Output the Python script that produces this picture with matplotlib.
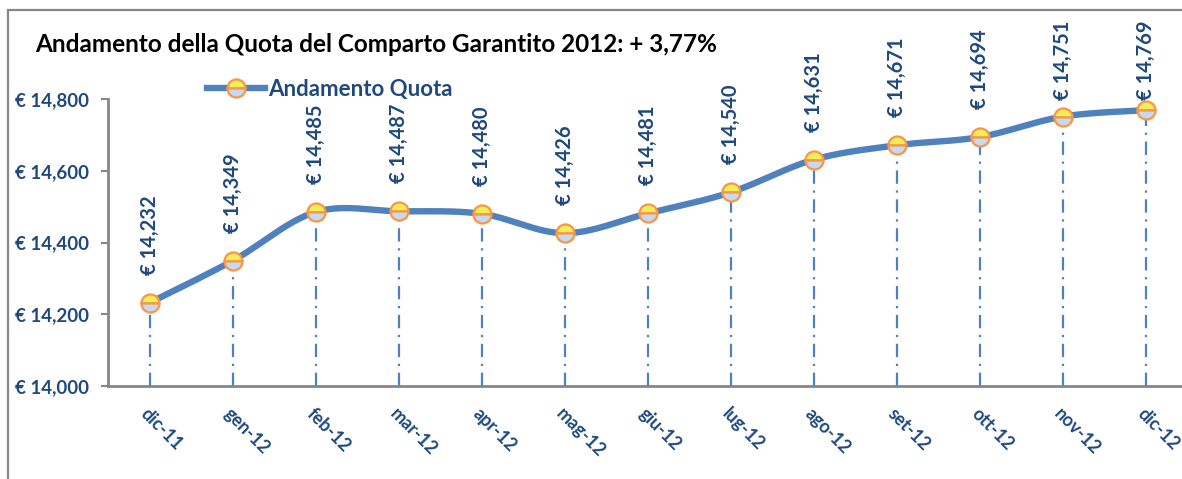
import numpy as np
import matplotlib
matplotlib.use("Agg")
import matplotlib.pyplot as plt
from matplotlib.patches import Rectangle

# Data
months = ['dic-11', 'gen-12', 'feb-12', 'mar-12', 'apr-12', 'mag-12', 'giu-12',
          'lug-12', 'ago-12', 'set-12', 'ott-12', 'nov-12', 'dic-12']
quota = [14.232, 14.349, 14.485, 14.487, 14.480, 14.426, 14.481,
         14.540, 14.631, 14.671, 14.694, 14.751, 14.769]
y_ticks = [14.0, 14.2, 14.4, 14.6, 14.8]

title = 'Andamento della Quota del Comparto Garantito 2012: + 3,77%'
series_name = 'Andamento Quota'

line_col = '#4F81BD'
text_col = '#1F497D'
edge_col = '#F79646'
grey = '#868686'

plt.rcParams['font.family'] = ['Lato', 'DejaVu Sans']

W, H = 1182, 479
fig = plt.figure(figsize=(W / 100, H / 100), dpi=100)
ax = fig.add_axes([108 / W, 1 - 386 / H, (1187.5 - 108) / W, (386 - 99) / H])

x = np.arange(len(months))
y = np.array(quota)


def eur(v):
    return '€ ' + f'{v:,.3f}'.replace('.', ',')


# smoothed line like Excel (Catmull-Rom through bezier segments)
def smooth(xs, ys, n=30):
    px = np.concatenate([[xs[0]], xs, [xs[-1]]])
    py = np.concatenate([[ys[0]], ys, [ys[-1]]])
    out_x, out_y = [], []
    t = np.linspace(0, 1, n)
    for i in range(1, len(px) - 2):
        p0 = np.array([px[i], py[i]])
        p3 = np.array([px[i + 1], py[i + 1]])
        c1 = p0 + (p3 - np.array([px[i - 1], py[i - 1]])) / 6
        c2 = p3 - (np.array([px[i + 2], py[i + 2]]) - p0) / 6
        b = ((1 - t) ** 3)[:, None] * p0 + (3 * (1 - t) ** 2 * t)[:, None] * c1 \
            + (3 * (1 - t) * t ** 2)[:, None] * c2 + (t ** 3)[:, None] * p3
        out_x.extend(b[:, 0])
        out_y.extend(b[:, 1])
    return np.array(out_x), np.array(out_y)


ax.set_xlim(-0.5, len(months) - 0.5)
ax.set_ylim(14.0, 14.8)

# drop lines
ax.vlines(x, 14.0, y, colors=line_col, linestyles=(0, (6, 3, 1, 3)), lw=1.6, zorder=2)

sx, sy = smooth(x.astype(float), y)
ax.plot(sx, sy, color=line_col, lw=4.6, solid_capstyle='round', zorder=3, clip_on=False)
mk = dict(marker='o', ms=13, fillstyle='top', markerfacecolor='#F2EE5A',
          markerfacecoloralt='#C6D9F1', markeredgecolor=edge_col, markeredgewidth=1.6)
ax.plot(x, y, ls='none', zorder=4, clip_on=False, **mk)

# data labels, clamped near the top of the chart
for xi, yi in zip(x, y):
    py_top = H - ax.transData.transform((xi, yi))[1]
    off_px = min(28, py_top - 100)
    ax.annotate(eur(yi), (xi, yi), xytext=(0, off_px * 0.72), textcoords='offset points',
                rotation=90, ha='center', va='bottom', color=text_col,
                fontsize=14.5, fontweight='bold', annotation_clip=False)

ax.set_yticks(y_ticks)
ax.set_yticklabels(['€ ' + f'{v * 1000:,.0f}' for v in y_ticks])
ax.set_xticks(x)
ax.set_xticklabels(months, rotation=-45, ha='left', va='top', rotation_mode='anchor')
for lab in ax.get_xticklabels():
    lab.set_fontsize(13)
    lab.set_fontweight('bold')
    lab.set_color(text_col)
for lab in ax.get_yticklabels():
    lab.set_fontsize(13.5)
    lab.set_fontweight('bold')
    lab.set_color(text_col)
ax.tick_params(axis='x', length=0, pad=14)
ax.tick_params(axis='y', length=5, width=1.5, color=grey, pad=9)

for side in ['top', 'right']:
    ax.spines[side].set_visible(False)
for side in ['left', 'bottom']:
    ax.spines[side].set_color(grey)
    ax.spines[side].set_linewidth(2)

# legend
leg = ax.legend([plt.Line2D([0], [0], color=line_col, lw=4.6, **mk)],
                [series_name], loc='center left', bbox_to_anchor=(207 / W, 1 - 89 / H),
                bbox_transform=fig.transFigure, frameon=False, handlelength=2.6,
                handletextpad=0.15, borderaxespad=0, borderpad=0,
                prop={'weight': 'bold', 'size': 16})
for t in leg.get_texts():
    t.set_color(text_col)

fig.text(35 / W, 1 - 45 / H, title, ha='left', va='center', fontsize=17.5,
         fontweight='bold', color='black')

# outer chart frame (cropped)
fig.patches.append(Rectangle((8 / W, -0.1), 1.2, 1 - 10 / H + 0.1, transform=fig.transFigure,
                             fill=False, edgecolor=grey, lw=1.6, zorder=0))

fig.savefig('out.png', dpi=100)
